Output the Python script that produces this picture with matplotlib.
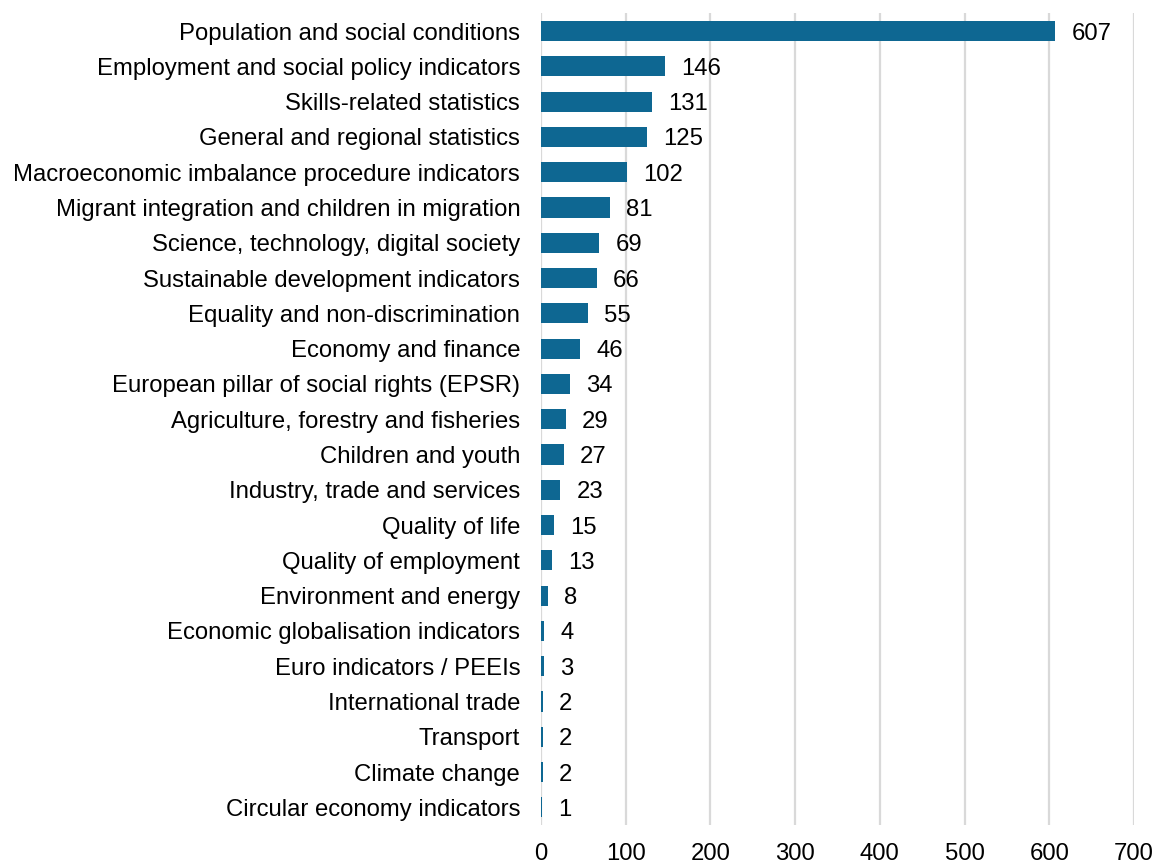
import matplotlib
matplotlib.use("Agg")
import matplotlib.pyplot as plt

categories = [
    "Population and social conditions",
    "Employment and social policy indicators",
    "Skills-related statistics",
    "General and regional statistics",
    "Macroeconomic imbalance procedure indicators",
    "Migrant integration and children in migration",
    "Science, technology, digital society",
    "Sustainable development indicators",
    "Equality and non-discrimination",
    "Economy and finance",
    "European pillar of social rights (EPSR)",
    "Agriculture, forestry and fisheries",
    "Children and youth",
    "Industry, trade and services",
    "Quality of life",
    "Quality of employment",
    "Environment and energy",
    "Economic globalisation indicators",
    "Euro indicators / PEEIs",
    "International trade",
    "Transport",
    "Climate change",
    "Circular economy indicators",
]
values = [607, 146, 131, 125, 102, 81, 69, 66, 55, 46, 34, 29, 27, 23, 15, 13, 8, 4, 3, 2, 2, 2, 1]
xticks = [0, 100, 200, 300, 400, 500, 600, 700]

plt.rcParams['font.family'] = ['Liberation Sans', 'DejaVu Sans']
FS = 17.2

fig = plt.figure(figsize=(11.55, 8.65), dpi=100)
ax = fig.add_axes([0.4684, 0.0462, 0.5134, 0.9383])

ypos = list(range(len(categories)))
ax.barh(ypos, values, height=0.57, color="#0e6792", zorder=3)
for y, v in zip(ypos, values):
    ax.text(v + 19, y, str(v), va="center_baseline", ha="left", fontsize=FS, color="#000000")

ax.set_yticks(ypos)
ax.set_yticklabels(categories, fontsize=FS)
ax.set_ylim(len(categories) - 0.5, -0.5)
ax.set_xlim(0, 700)
ax.set_xticks(xticks)
ax.set_xticklabels([str(t) for t in xticks], fontsize=FS)
ax.tick_params(axis="both", length=0)
ax.tick_params(axis="x", pad=13)
ax.tick_params(axis="y", pad=15)
for lab in ax.get_yticklabels():
    lab.set_verticalalignment("center_baseline")
ax.grid(axis="x", color="#d9d9d9", linewidth=1.6, zorder=0)
for s in ax.spines.values():
    s.set_visible(False)

fig.savefig("out.png", dpi=100)
